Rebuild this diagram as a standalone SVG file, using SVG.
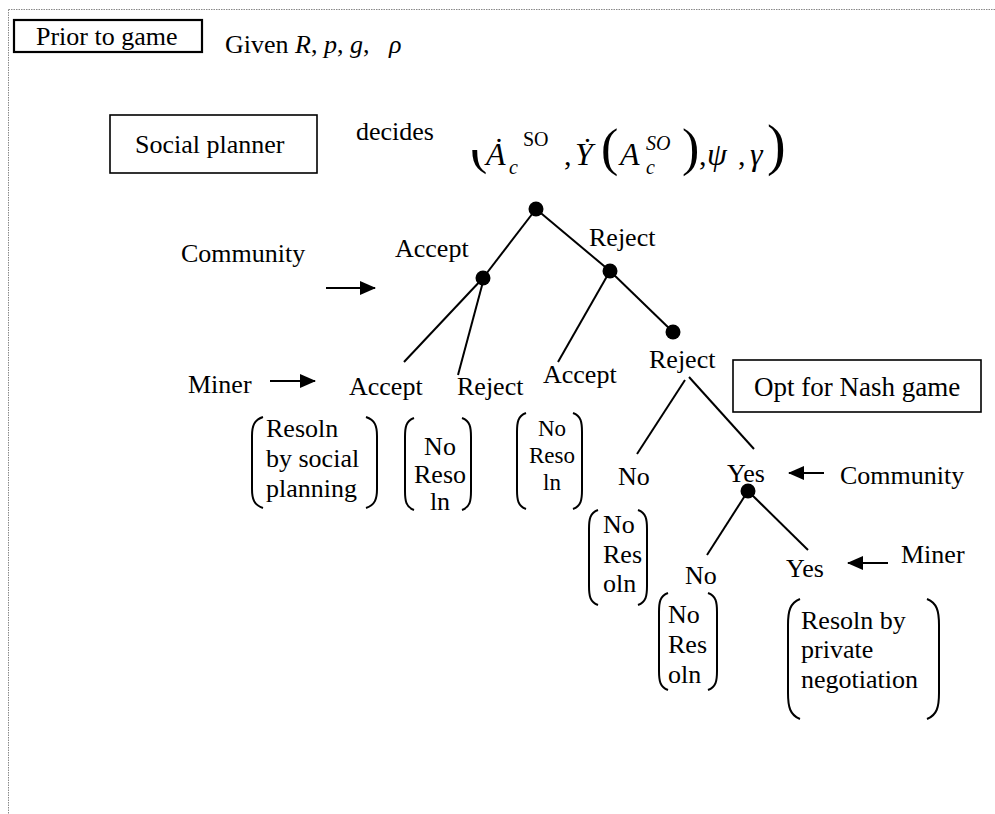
<svg xmlns="http://www.w3.org/2000/svg" width="995" height="814" viewBox="0 0 995 814">
<style>
text{font-family:'Liberation Serif','Nimbus Roman','FreeSerif','Tinos','Noto Serif','DejaVu Serif','Times New Roman',Times,serif;fill:#000}
.t{font-size:26px}
.s{font-size:23px}
.it{font-style:italic}
.box{fill:none;stroke:#000;stroke-width:1.6}
.edge{stroke:#000;stroke-width:2;fill:none}
.br{stroke:#000;stroke-width:2;fill:none}
.dot{fill:#000}
.arr{stroke:#000;stroke-width:2;fill:none}
</style>
<defs>
<marker id="ah2" markerWidth="16" markerHeight="14" refX="15" refY="7" orient="auto" markerUnits="userSpaceOnUse">
<path d="M0,0 L16,7 L0,14 Z" fill="#000"/>
</marker>
<clipPath id="cp1"><rect x="460" y="150" width="30" height="40"/></clipPath>
</defs>

<path d="M8.5,9.5 H995 M8.5,9.5 V814" stroke="#888" stroke-width="1" stroke-dasharray="1.5,1" fill="none"/>

<g id="prior">
<rect class="box" x="14" y="20" width="188" height="32" style="stroke-width:2.2"/>
<text class="t" x="36" y="45">Prior to game</text>
</g>
<g id="given">
<text class="t" x="225" y="53" xml:space="preserve">Given <tspan class="it">R</tspan>, <tspan class="it">p</tspan>, <tspan class="it">g</tspan>,   <tspan class="it">ρ</tspan></text>
</g>

<g id="social-planner">
<rect class="box" x="110" y="115" width="207" height="58"/>
<text class="t" x="135" y="153">Social planner</text>
</g>
<g id="decides">
<text class="t" x="356" y="140">decides</text>
<g clip-path="url(#cp1)"><text x="470" y="163" style="font-size:52px">(</text></g>
<text x="486" y="165" class="it" style="font-size:32px">Ȧ</text>
<text x="509" y="174" class="it" style="font-size:20px">c</text>
<text x="523" y="146" style="font-size:20px">SO</text>
<text x="564" y="165" style="font-size:30px">,</text>
<text x="575" y="165" class="it" style="font-size:32px">Ẏ</text>
<text x="601" y="165" style="font-size:52px">(</text>
<text x="620" y="165" class="it" style="font-size:32px">A</text>
<text x="646" y="174" class="it" style="font-size:20px">c</text>
<text x="646" y="150" class="it" style="font-size:20px">SO</text>
<text x="682" y="165" style="font-size:52px">)</text>
<text x="699" y="165" style="font-size:30px">,</text>
<text x="707" y="165" class="it" style="font-size:32px">ψ</text>
<text x="738" y="165" style="font-size:30px">,</text>
<text x="750" y="165" class="it" style="font-size:32px">γ</text>
<text x="767" y="164" style="font-size:56px">)</text>
</g>

<g id="connectors">
<line class="edge" x1="536" y1="209" x2="483" y2="278"/>
<line class="edge" x1="536" y1="209" x2="610" y2="271"/>
<line class="edge" x1="483" y1="278" x2="404" y2="362"/>
<line class="edge" x1="484" y1="278" x2="458" y2="375"/>
<line class="edge" x1="610" y1="271" x2="558" y2="362"/>
<line class="edge" x1="610" y1="271" x2="673" y2="332"/>
<line class="edge" x1="685" y1="380" x2="637" y2="454"/>
<line class="edge" x1="689" y1="377" x2="754" y2="449"/>
<line class="edge" x1="748" y1="491" x2="707" y2="555"/>
<line class="edge" x1="748" y1="491" x2="808" y2="550"/>
<line class="arr" x1="326" y1="288" x2="375" y2="288" marker-end="url(#ah2)"/>
<line class="arr" x1="270" y1="381" x2="315" y2="381" marker-end="url(#ah2)"/>
<line class="arr" x1="824" y1="473" x2="789" y2="473" marker-end="url(#ah2)"/>
<line class="arr" x1="888" y1="563" x2="848" y2="563" marker-end="url(#ah2)"/>
</g>

<g id="n-root"><circle class="dot" cx="536" cy="209" r="7.5"/></g>
<g id="n-community"><circle class="dot" cx="483" cy="278" r="7.5"/><text class="t" x="395" y="257">Accept</text></g>
<g id="n-reject1"><circle class="dot" cx="610" cy="271" r="7.5"/><text class="t" x="589" y="246">Reject</text></g>
<g id="lbl-community"><text class="t" x="181" y="262">Community</text></g>
<g id="lbl-miner"><text class="t" x="188" y="393">Miner</text></g>
<g id="n-accept2"><text class="t" x="349" y="395">Accept</text></g>
<g id="n-reject2"><text class="t" x="457" y="395">Reject</text></g>
<g id="n-accept3"><text class="t" x="543" y="383">Accept</text></g>
<g id="n-reject3"><circle class="dot" cx="673" cy="332" r="7.5"/><text class="t" x="649" y="368">Reject</text></g>
<g id="opt-nash">
<rect class="box" x="733" y="360" width="248" height="52"/>
<text class="t" x="754" y="396" style="font-size:27px">Opt for Nash game</text>
</g>
<g id="n-no1"><text class="t" x="618" y="485">No</text></g>
<g id="n-yes1"><text class="t" x="727" y="482">Yes</text><circle class="dot" cx="748" cy="491" r="7.5"/></g>
<g id="lbl-community2"><text class="t" x="840" y="484">Community</text></g>
<g id="n-no2"><text class="t" x="685" y="584">No</text></g>
<g id="n-yes2"><text class="t" x="786" y="577">Yes</text></g>
<g id="lbl-miner2"><text class="t" x="901" y="563">Miner</text></g>

<g id="out-social">
<path class="br" d="M263,417 C254,420 252,426 252,436 L252,489 C252,499 254,505 263,508"/>
<path class="br" d="M366,417 C375,420 377,426 377,436 L377,489 C377,499 375,505 366,508"/>
<text class="t" x="266" y="437">Resoln</text>
<text class="t" x="266" y="467">by social</text>
<text class="t" x="266" y="497">planning</text>
</g>
<g id="out-nores1">
<path class="br" d="M414,418 C406,421 405,427 405,437 L405,491 C405,501 406,507 414,510"/>
<path class="br" d="M462,418 C470,421 471,427 471,437 L471,491 C471,501 470,507 462,510"/>
<text class="t" x="440" y="455" text-anchor="middle">No</text>
<text class="t" x="440" y="483" text-anchor="middle">Reso</text>
<text class="t" x="440" y="510" text-anchor="middle">ln</text>
</g>
<g id="out-nores2">
<path class="br" d="M526,413 C518,416 517,422 517,432 L517,490 C517,500 518,506 526,509"/>
<path class="br" d="M573,413 C581,416 582,422 582,432 L582,490 C582,500 581,506 573,509"/>
<text class="s" x="552" y="436" text-anchor="middle">No</text>
<text class="s" x="552" y="463" text-anchor="middle">Reso</text>
<text class="s" x="552" y="490" text-anchor="middle">ln</text>
</g>
<g id="out-nores3">
<path class="br" d="M598,510 C590,513 589,519 589,529 L589,586 C589,596 590,602 598,605"/>
<path class="br" d="M638,510 C646,513 647,519 647,529 L647,586 C647,596 646,602 638,605"/>
<text class="t" x="603" y="533">No</text>
<text class="t" x="603" y="563">Res</text>
<text class="t" x="603" y="592">oln</text>
</g>
<g id="out-nores4">
<path class="br" d="M668,593 C660,596 659,602 659,612 L659,671 C659,681 660,687 668,690"/>
<path class="br" d="M708,593 C716,596 717,602 717,612 L717,671 C717,681 716,687 708,690"/>
<text class="t" x="668" y="623">No</text>
<text class="t" x="668" y="653">Res</text>
<text class="t" x="668" y="683">oln</text>
</g>
<g id="out-private">
<path class="br" d="M800,599 C790,603 788,611 788,625 L788,693 C788,707 790,715 800,719"/>
<path class="br" d="M927,599 C937,603 939,611 939,625 L939,693 C939,707 937,715 927,719"/>
<text class="t" x="801" y="629">Resoln by</text>
<text class="t" x="801" y="658">private</text>
<text class="t" x="801" y="688">negotiation</text>
</g>
</svg>
